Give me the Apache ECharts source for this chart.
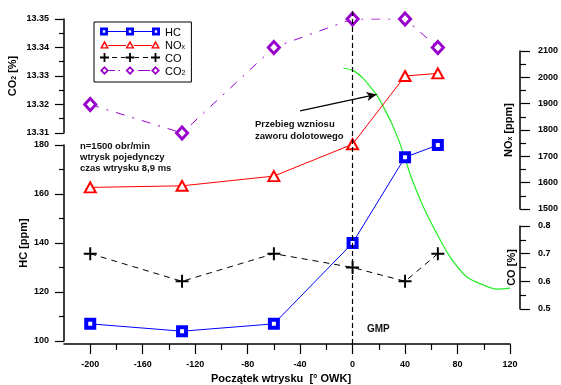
<!DOCTYPE html>
<html>
<head>
<meta charset="utf-8">
<script src="https://cdn.jsdelivr.net/npm/echarts@6/dist/echarts.min.js"></script>
<style>html,body{margin:0;padding:0;background:#fff;}#c{width:561px;height:385px;}</style>
</head>
<body>
<div id="c"></div>
<script>
const injStart = [-200, -130, -60, 0, 40, 65];
const hcPpm = [107, 104, 107, 140, 175, 180];
const noxPpm = [1582, 1588, 1625, 1746, 2005, 2015];
const coPct = [0.70, 0.60, 0.70, 0.65, 0.60, 0.70];
const co2Pct = [13.320, 13.310, 13.340, 13.350, 13.350, 13.340];
const liftAngle = [-7, 0.5, 8, 14.5, 18.3, 23.4, 29.8, 36.1, 39.9, 45.5, 53.9, 64.1, 74.2, 86.9, 99.6, 109.8, 120];
const liftVal = [11.49, 11.39, 11.07, 10.65, 10.38, 9.89, 9.20, 8.36, 7.74, 6.83, 5.72, 4.61, 3.64, 2.80, 2.46, 2.29, 2.33];
const xMajorTicks = [-200, -160, -120, -80, -40, 0, 40, 80, 120];
const xMinorTicks = [-180, -140, -100, -60, -20, 20, 60, 100];

const FONT = '"Liberation Sans", Arial, sans-serif';
const pairs = (xs, ys) => xs.map((x, i) => [x, ys[i]]);
const axisLine = {show: true, onZero: false, lineStyle: {color: '#000', width: 1.5}};
const labelStyle = {fontSize: 9, fontWeight: 'bold', color: '#000', fontFamily: FONT};
const richName = {
  b: {fontSize: 11, fontWeight: 'bold', color: '#000', fontFamily: FONT, lineHeight: 13, verticalAlign: 'bottom'},
  s: {fontSize: 7, fontWeight: 'bold', color: '#000', fontFamily: FONT, lineHeight: 5, verticalAlign: 'bottom'}
};

function hiddenX(g) {
  return {type: 'value', gridIndex: g, min: -220, max: 120, show: false,
    axisLine: {show: false, onZero: false}, axisTick: {show: false}, axisLabel: {show: false}, splitLine: {show: false}};
}
function yAx(g, o) {
  return Object.assign({
    type: 'value', gridIndex: g, axisLine: axisLine,
    axisTick: {show: true, length: 9, lineStyle: {color: '#000', width: 1.2}},
    minorTick: {show: true, splitNumber: 2, length: 5, lineStyle: {color: '#000', width: 1.2}},
    splitLine: {show: false}, minorSplitLine: {show: false},
    nameLocation: 'middle', nameRotate: 90, nameMoveOverlap: false,
    nameTextStyle: {rich: richName}
  }, o);
}

const grids = [
  {left: 64, right: 51, top: 145, height: 196},
  {left: 64, right: 51, top: 19, height: 114},
  {left: 64, right: 51, top: 51, height: 158},
  {left: 64, right: 51, top: 226, height: 83},
  {left: 64, right: 51, top: 8, height: 336}
].map(g => Object.assign({outerBoundsMode: 'none', containLabel: false}, g));

const option = {
  animation: false,
  backgroundColor: '#fff',
  grid: grids,
  xAxis: [
    {
      type: 'value', gridIndex: 0, position: 'bottom', min: -220, max: 120, offset: 3,
      axisLine: axisLine,
      axisTick: {show: true, length: 10, customValues: xMajorTicks, lineStyle: {color: '#000', width: 1.2}},
      axisLabel: Object.assign({customValues: xMajorTicks, margin: 16}, labelStyle),
      splitLine: {show: false},
      name: 'Początek wtrysku  [° OWK]', nameLocation: 'middle', nameGap: 27,
      nameTextStyle: {fontSize: 11, fontWeight: 'bold', color: '#000', fontFamily: FONT, padding: [0, 12, 0, 0]}
    },
    hiddenX(1), hiddenX(2), hiddenX(3), hiddenX(4),
    {
      type: 'value', gridIndex: 0, position: 'bottom', min: -220, max: 120, offset: 3,
      axisLine: {show: false, onZero: false},
      axisTick: {show: true, length: 6, customValues: xMinorTicks, lineStyle: {color: '#000', width: 1.2}},
      axisLabel: {show: false}, splitLine: {show: false}
    }
  ],
  yAxis: [
    yAx(0, {min: 100, max: 180, interval: 20, position: 'left',
      axisLabel: Object.assign({margin: 15}, labelStyle),
      name: '{b|HC [ppm]}', nameGap: 35}),
    yAx(1, {min: 13.31, max: 13.35, interval: 0.01, position: 'left',
      axisLabel: Object.assign({margin: 15, formatter: v => v.toFixed(2)}, labelStyle),
      name: '{b|CO}{s|2}{b| [%]}', nameGap: 46}),
    yAx(2, {min: 1500, max: 2100, interval: 100, position: 'right', offset: 10,
      axisTick: {show: true, length: 10, lineStyle: {color: '#000', width: 1.2}},
      minorTick: {show: true, splitNumber: 2, length: 6, lineStyle: {color: '#000', width: 1.2}},
      axisLabel: Object.assign({margin: 18, formatter: v => String(v)}, labelStyle),
      name: '{b|NO}{s|x}{b| [ppm]}', nameGap: -19}),
    yAx(3, {min: 0.5, max: 0.8, interval: 0.1, position: 'right', offset: 10,
      axisTick: {show: true, length: 10, lineStyle: {color: '#000', width: 1.2}},
      minorTick: {show: true, splitNumber: 2, length: 6, lineStyle: {color: '#000', width: 1.2}},
      axisLabel: Object.assign({margin: 18, formatter: v => v.toFixed(1)}, labelStyle),
      name: '{b|CO [%]}', nameGap: -16}),
    {type: 'value', gridIndex: 4, min: 0, max: 14, show: false,
      axisLine: {show: false, onZero: false}, axisTick: {show: false}, axisLabel: {show: false}, splitLine: {show: false}}
  ],
  legend: {
    orient: 'vertical', left: 94, top: 22,
    itemWidth: 60, itemHeight: 10, itemGap: 2,
    padding: [5, 6, 5, 6],
    borderColor: '#000', borderWidth: 1,
    selectedMode: false,
    textStyle: {fontSize: 11, color: '#000', fontFamily: FONT,
      rich: {
        n: {fontSize: 11, color: '#000', fontFamily: FONT, lineHeight: 13, verticalAlign: 'bottom'},
        s: {fontSize: 7, color: '#000', fontFamily: FONT, lineHeight: 5, verticalAlign: 'bottom'}
      }},
    formatter: function (name) {
      if (name === 'NOx') return '{n|NO}{s|x}';
      if (name === 'CO2') return '{n|CO}{s|2}';
      return '{n|' + name + '}';
    },
    data: [
      {name: 'HC', icon: 'path://M0,0H8V8H0ZM2.8,2.8V5.2H5.2V2.8ZM26,0H34V8H26ZM28.8,2.8V5.2H31.2V2.8ZM52,0H60V8H52ZM54.8,2.8V5.2H57.2V2.8ZM8,3.5H26V4.5H8ZM34,3.5H52V4.5H34Z',
        itemStyle: {color: '#0000ff', borderWidth: 0, borderColor: 'transparent'}},
      {name: 'NOx', icon: 'path://M0,8L4.5,0L9,8ZM2.4,6.7L6.6,6.7L4.5,2.9ZM25.5,8L30,0L34.5,8ZM27.9,6.7L32.1,6.7L30,2.9ZM51,8L55.5,0L60,8ZM53.4,6.7L57.6,6.7L55.5,2.9ZM8,4.5H26V5.5H8ZM34,4.5H52V5.5H34Z',
        itemStyle: {color: '#ff0000', borderWidth: 0, borderColor: 'transparent'}},
      {name: 'CO', icon: 'path://M3.6,0H5.4V3.6H9V5.4H5.4V9H3.6V5.4H0V3.6H3.6ZM29.1,0H30.9V3.6H34.5V5.4H30.9V9H29.1V5.4H25.5V3.6H29.1ZM54.6,0H56.4V3.6H60V5.4H56.4V9H54.6V5.4H51V3.6H54.6ZM12,4H17V5H12ZM21,4H25V5H21ZM35,4H39V5H35ZM43,4H48V5H43Z',
        itemStyle: {color: '#000000', borderWidth: 0, borderColor: 'transparent'}},
      {name: 'CO2', icon: 'path://M4.5,0L9,4.5L4.5,9L0,4.5ZM4.5,2.5L2.5,4.5L4.5,6.5L6.5,4.5ZM30,0L34.5,4.5L30,9L25.5,4.5ZM30,2.5L28,4.5L30,6.5L32,4.5ZM55.5,0L60,4.5L55.5,9L51,4.5ZM55.5,2.5L53.5,4.5L55.5,6.5L57.5,4.5ZM9,4H15V5H9ZM18.5,4H20V5H18.5ZM38,4H50V5H38Z',
        itemStyle: {color: '#9900cc', borderWidth: 0, borderColor: 'transparent'}}
    ]
  },
  graphic: [
    {type: 'text', left: 80, top: 141, silent: true,
      style: {text: 'n=1500 obr/min\nwtrysk pojedynczy\nczas wtrysku 8,9 ms', font: 'bold 9.5px ' + FONT, lineHeight: 11, fill: '#111'}},
    {type: 'text', left: 255, top: 119, silent: true,
      style: {text: 'Przebieg wzniosu\nzaworu dolotowego', font: 'bold 9.5px ' + FONT, lineHeight: 11.7, fill: '#111'}},
    {type: 'text', left: 367, top: 324, silent: true,
      style: {text: 'GMP', font: 'bold 10px ' + FONT, fill: '#111'}}
  ],
  series: [
    {
      name: 'lift', type: 'line', xAxisIndex: 4, yAxisIndex: 4,
      data: pairs(liftAngle, liftVal), smooth: 0.3, showSymbol: false, z: 1,
      lineStyle: {color: '#22ee22', width: 1.2}, emphasis: {disabled: true}, silent: true,
      markLine: {
        silent: true, symbol: ['none', 'none'], label: {show: false}, animation: false,
        data: [
          {xAxis: 0, lineStyle: {color: '#000', type: [5, 3], width: 1.2}},
          [{coord: [-40, 9.71], symbol: 'none'},
           {coord: [18.3, 10.4], symbol: 'arrow', symbolSize: [7, 10], lineStyle: {color: '#000', type: 'solid', width: 1.2}}]
        ]
      }
    },
    {
      name: 'CO2', type: 'line', xAxisIndex: 1, yAxisIndex: 1,
      data: pairs(injStart, co2Pct),
      symbol: 'diamond', symbolSize: [11, 12],
      itemStyle: {color: '#ffffff', borderColor: '#9900cc', borderWidth: 3},
      lineStyle: {color: '#9900cc', width: 1, type: [9, 8, 2, 8]},
      emphasis: {disabled: true}, z: 3
    },
    {
      name: 'NOx', type: 'line', xAxisIndex: 2, yAxisIndex: 2,
      data: pairs(injStart, noxPpm),
      symbol: 'triangle', symbolSize: [11, 10],
      itemStyle: {color: '#ffffff', borderColor: '#ff0000', borderWidth: 2},
      lineStyle: {color: '#ff0000', width: 1},
      emphasis: {disabled: true}, z: 3
    },
    {
      name: 'CO', type: 'line', xAxisIndex: 3, yAxisIndex: 3,
      data: pairs(injStart, coPct),
      symbol: 'path://M5.1,0H6.9V5.1H12V6.9H6.9V12H5.1V6.9H0V5.1H5.1Z', symbolSize: 13,
      itemStyle: {color: '#000000', borderWidth: 0},
      lineStyle: {color: '#000000', width: 1, type: [6, 5]},
      emphasis: {disabled: true}, z: 3
    },
    {
      name: 'HC', type: 'line', xAxisIndex: 0, yAxisIndex: 0,
      data: pairs(injStart, hcPpm),
      symbol: 'rect', symbolSize: 8,
      itemStyle: {color: '#ffffff', borderColor: '#0000ff', borderWidth: 4},
      lineStyle: {color: '#0000ff', width: 1},
      emphasis: {disabled: true}, z: 4
    }
  ]
};

const chart = echarts.init(document.getElementById('c'), null, {renderer: 'canvas'});
chart.setOption(option);
</script>
</body>
</html>
